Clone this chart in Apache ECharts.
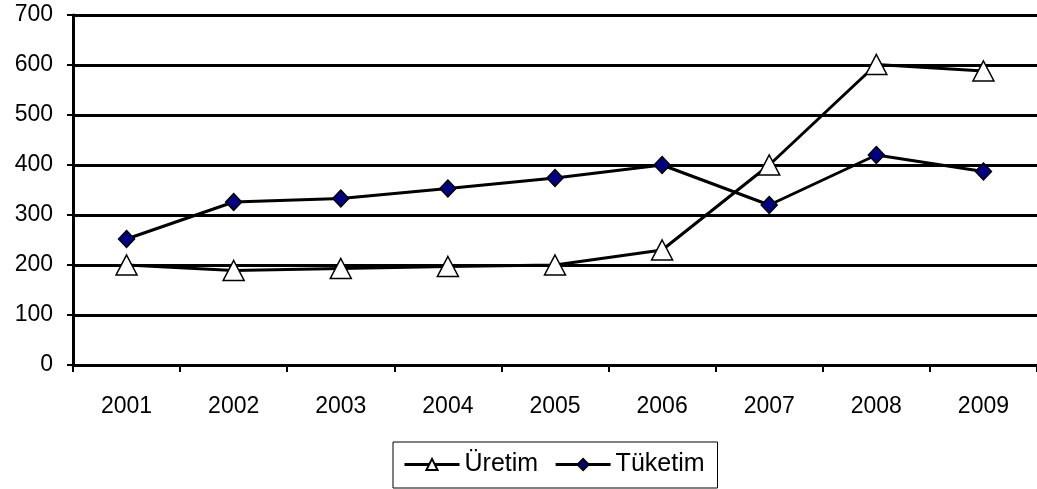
<!DOCTYPE html>
<html><head><meta charset="utf-8">
<script src="https://cdn.jsdelivr.net/npm/echarts@6/dist/echarts.min.js"></script>
<style>html,body{margin:0;padding:0;background:#fff}#c{width:1037px;height:489px}</style>
</head><body><div id="c"></div>
<script>
var years = ['2001','2002','2003','2004','2005','2006','2007','2008','2009'];
var uretim = [200, 189, 193, 197, 200, 230, 400, 601, 588];
var tuketim = [252, 326, 333, 353, 374, 400, 320, 420, 387];
var yTicks = [0, 100, 200, 300, 400, 500, 600, 700];

var chart = echarts.init(document.getElementById('c'));
var font = 'Arial, "Liberation Sans", sans-serif';
chart.setOption({
  animation: false,
  grid: {left: 73, top: 15, width: 967, height: 350, containLabel: false},
  xAxis: {
    type: 'category', data: years, boundaryGap: true,
    axisLine: {lineStyle: {color: '#000', width: 3}},
    axisTick: {show: true, length: 7, lineStyle: {color: '#000', width: 2}, alignWithLabel: false},
    axisLabel: {color: '#000', fontSize: 23, fontFamily: font, margin: 30},
    splitLine: {show: false}
  },
  yAxis: {
    type: 'value', min: yTicks[0], max: yTicks[yTicks.length-1], interval: 100,
    axisLine: {show: true, lineStyle: {color: '#000', width: 3}},
    axisTick: {show: true, length: 6, lineStyle: {color: '#000', width: 2}},
    axisLabel: {color: '#000', fontSize: 23, fontFamily: font, margin: 20},
    splitLine: {show: true, lineStyle: {color: '#000', width: 3}}
  },
  legend: {
    top: 442, left: 393,
    itemWidth: 55, itemHeight: 14, itemGap: 16,
    padding: [10, 13, 11, 10],
    borderColor: '#000', borderWidth: 1,
    lineStyle: {width: 3, color: '#000'},
    textStyle: {color: '#000', fontSize: 25, fontFamily: font},
    data: ['Üretim', 'Tüketim']
  },
  series: [
    {
      name: 'Üretim', type: 'line', data: uretim,
      symbol: 'triangle', symbolSize: [21, 20],
      lineStyle: {color: '#000', width: 3},
      itemStyle: {color: '#fff', borderColor: '#000', borderWidth: 1.5},
      z: 3
    },
    {
      name: 'Tüketim', type: 'line', data: tuketim,
      symbol: 'diamond', symbolSize: [16, 17],
      lineStyle: {color: '#000', width: 3},
      itemStyle: {color: '#000080', borderColor: '#000', borderWidth: 1.5},
      z: 4
    }
  ]
});
</script></body></html>
